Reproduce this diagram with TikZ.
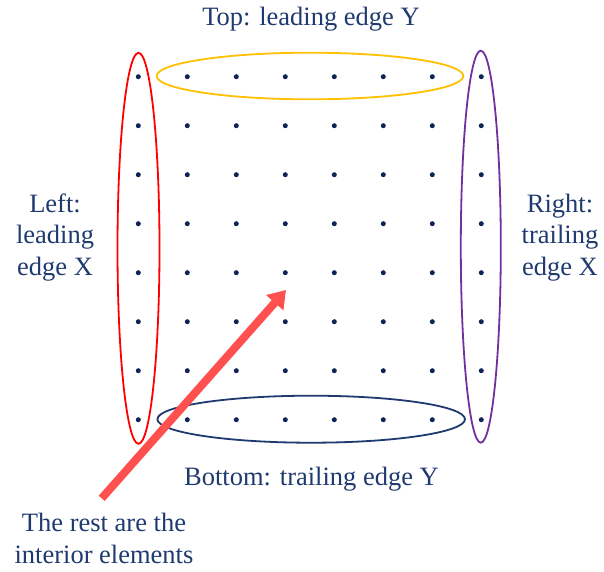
\documentclass[tikz,border=0pt]{standalone}
\usepackage{fontspec}
\setmainfont{Liberation Serif}
\usetikzlibrary{shapes.geometric,arrows.meta}
\definecolor{navy}{HTML}{1F3A6E}
\definecolor{dotnavy}{HTML}{0F2456}
\definecolor{ovred}{HTML}{FF0000}
\definecolor{ovyellow}{HTML}{FFC000}
\definecolor{ovpurple}{HTML}{7030A0}
\definecolor{arrred}{HTML}{FF5050}
\begin{document}
\begin{tikzpicture}[x=1pt,y=-1pt,
  griddot/.style={circle,fill=dotnavy,inner sep=0pt,minimum size=5pt},
  oval/.style={ellipse,draw,line width=1.8pt,inner sep=0pt},
  lbl/.style={text=navy,font=\fontsize{26.5}{31.5}\selectfont,align=center,inner sep=0pt},
  bigarrow/.style={draw=arrred,line width=8pt,-{Triangle[length=17pt,width=22pt]}}]
\useasboundingbox (0,0) rectangle (604,571);
\foreach \i in {0,...,7}{
  \foreach \j in {0,...,7}{
    \node[griddot] (d-\i-\j) at ({138.3+49*\i},{76.7+49*\j}) {};
  }
}
\node[oval,draw=ovred,minimum width=42pt,minimum height=391pt] (left) at (138.5,248.3) {};
\node[oval,draw=ovpurple,minimum width=40pt,minimum height=392pt] (right) at (480.8,246.7) {};
\node[oval,draw=ovyellow,minimum width=306.6pt,minimum height=46.6pt] (top) at (310,76) {};
\node[oval,draw=navy,minimum width=307.6pt,minimum height=47pt] (bottom) at (311.2,419.2) {};
\node[lbl,anchor=base] (ttop) at (311,25) {Top: leading edge Y};
\node[lbl,anchor=base] (tbottom) at (311.5,485) {Bottom: trailing edge Y};
\node[lbl,anchor=base] (tleft) at (55,275) {Left:\\leading\\edge X};
\node[lbl,anchor=base] (tright) at (560,275) {Right:\\trailing\\edge X};
\node[lbl,anchor=base] (trest) at (104,563) {The rest are the\\interior elements};
\coordinate (tail) at (101.7,498.3);
\coordinate (tip) at (286,290);
\draw[bigarrow] (tail) -- (tip);
\end{tikzpicture}
\end{document}
